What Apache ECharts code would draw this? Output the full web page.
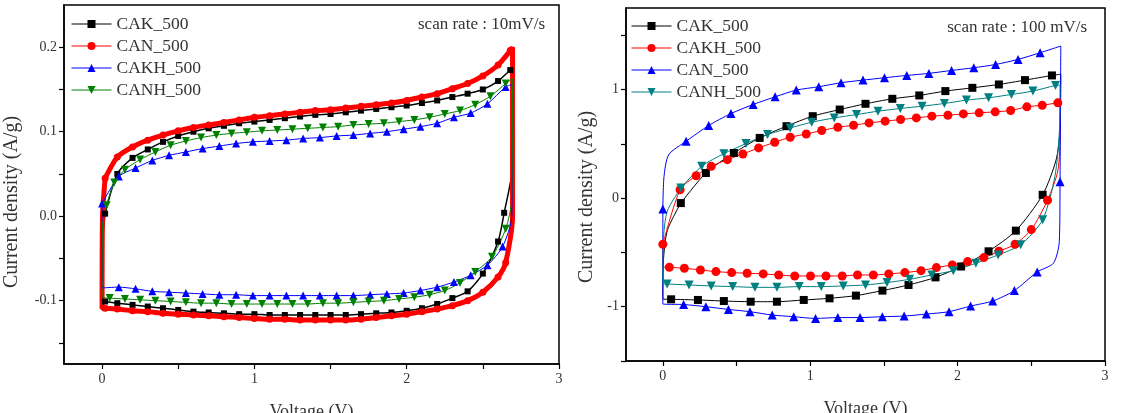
<!DOCTYPE html>
<html>
<head>
<meta charset="utf-8">
<script src="https://cdn.jsdelivr.net/npm/echarts@6/dist/echarts.min.js"></script>
<style>
  html, body { margin: 0; padding: 0; background: #fff; }
  #chart { width: 1121px; height: 413px; }
</style>
</head>
<body>
<div id="chart"></div>
<script>
// Each loop is [V, I] in parts: markers on the upper branch, bare turn points,
// markers on the lower branch, bare closing points.

// ---- left panel, 10 mV/s ----
const cak10Up = [[0.02,0.003],[0.1,0.050],[0.2,0.069],[0.3,0.079],[0.4,0.088],[0.5,0.095],[0.6,0.100],[0.7,0.104],[0.8,0.107],[0.9,0.110],[1.0,0.112],[1.1,0.114],[1.2,0.116],[1.3,0.118],[1.4,0.120],[1.5,0.121],[1.6,0.123],[1.7,0.125],[1.8,0.127],[1.9,0.129],[2.0,0.131],[2.1,0.134],[2.2,0.137],[2.3,0.141],[2.4,0.145],[2.5,0.150],[2.6,0.160],[2.68,0.173]];
const cak10Turn = [[2.695,0.175],[2.695,0.06]];
const cak10Down = [[2.64,0.004],[2.6,-0.03],[2.5,-0.068],[2.4,-0.089],[2.3,-0.097],[2.2,-0.104],[2.1,-0.109],[2.0,-0.112],[1.9,-0.114],[1.8,-0.115],[1.7,-0.116],[1.6,-0.117],[1.5,-0.117],[1.4,-0.117],[1.3,-0.117],[1.2,-0.117],[1.1,-0.117],[1.0,-0.116],[0.9,-0.116],[0.8,-0.115],[0.7,-0.114],[0.6,-0.113],[0.5,-0.111],[0.4,-0.109],[0.3,-0.107],[0.2,-0.105],[0.1,-0.103],[0.02,-0.101]];
const cak10Close = [[0.0,-0.100],[0.003,-0.03]];

const can10Up = [[0.02,0.045],[0.1,0.070],[0.2,0.082],[0.3,0.090],[0.4,0.096],[0.5,0.101],[0.6,0.105],[0.7,0.108],[0.8,0.111],[0.9,0.114],[1.0,0.117],[1.1,0.119],[1.2,0.121],[1.3,0.123],[1.4,0.125],[1.5,0.126],[1.6,0.128],[1.7,0.130],[1.8,0.132],[1.9,0.134],[2.0,0.137],[2.1,0.141],[2.2,0.145],[2.3,0.151],[2.4,0.157],[2.5,0.166],[2.6,0.179],[2.68,0.196]];
const can10Turn = [[2.695,0.20],[2.695,0.0]];
const can10Down = [[2.65,-0.055],[2.6,-0.072],[2.5,-0.090],[2.4,-0.100],[2.3,-0.106],[2.2,-0.110],[2.1,-0.113],[2.0,-0.116],[1.9,-0.118],[1.8,-0.120],[1.7,-0.122],[1.6,-0.123],[1.5,-0.123],[1.4,-0.123],[1.3,-0.123],[1.2,-0.122],[1.1,-0.122],[1.0,-0.121],[0.9,-0.120],[0.8,-0.119],[0.7,-0.118],[0.6,-0.117],[0.5,-0.116],[0.4,-0.115],[0.3,-0.113],[0.2,-0.112],[0.1,-0.110],[0.02,-0.109]];
const can10Close = [[0.0,-0.109],[0.003,0.0]];

const cakh10Up = [[0.0,0.015],[0.11,0.047],[0.22,0.057],[0.33,0.066],[0.44,0.072],[0.55,0.076],[0.66,0.080],[0.77,0.083],[0.88,0.086],[0.99,0.088],[1.1,0.089],[1.21,0.090],[1.32,0.092],[1.43,0.093],[1.54,0.095],[1.65,0.096],[1.76,0.098],[1.87,0.100],[1.98,0.103],[2.09,0.106],[2.2,0.110],[2.31,0.117],[2.42,0.122],[2.53,0.133],[2.65,0.153]];
const cakh10Turn = [[2.695,0.156],[2.69,0.0]];
const cakh10Down = [[2.63,-0.036],[2.53,-0.058],[2.42,-0.070],[2.31,-0.078],[2.2,-0.084],[2.09,-0.088],[1.98,-0.091],[1.87,-0.092],[1.76,-0.093],[1.65,-0.094],[1.54,-0.094],[1.43,-0.094],[1.32,-0.094],[1.21,-0.094],[1.1,-0.094],[0.99,-0.094],[0.88,-0.093],[0.77,-0.093],[0.66,-0.092],[0.55,-0.091],[0.44,-0.090],[0.33,-0.089],[0.22,-0.086],[0.11,-0.084]];
const cakh10Close = [[0.0,-0.085]];

const canh10Up = [[0.03,0.013],[0.08,0.040],[0.15,0.055],[0.25,0.067],[0.35,0.076],[0.45,0.084],[0.55,0.089],[0.65,0.093],[0.75,0.096],[0.85,0.098],[0.95,0.0995],[1.05,0.101],[1.15,0.102],[1.25,0.103],[1.35,0.104],[1.45,0.105],[1.55,0.106],[1.65,0.108],[1.75,0.109],[1.85,0.110],[1.95,0.112],[2.05,0.114],[2.15,0.117],[2.25,0.121],[2.35,0.125],[2.45,0.132],[2.55,0.142],[2.65,0.157]];
const canh10Turn = [[2.695,0.163],[2.69,0.02]];
const canh10Down = [[2.65,-0.015],[2.56,-0.048],[2.45,-0.066],[2.35,-0.079],[2.25,-0.088],[2.15,-0.093],[2.05,-0.096],[1.95,-0.098],[1.85,-0.100],[1.75,-0.101],[1.65,-0.102],[1.55,-0.103],[1.45,-0.103],[1.35,-0.104],[1.25,-0.104],[1.15,-0.104],[1.05,-0.104],[0.95,-0.104],[0.85,-0.104],[0.75,-0.103],[0.65,-0.103],[0.55,-0.102],[0.45,-0.101],[0.35,-0.100],[0.25,-0.099],[0.15,-0.098],[0.05,-0.097]];
const canh10Close = [[0.0,-0.096],[0.003,-0.01]];

// ---- right panel, 100 mV/s ----
const cak100Up = [[0.122,-0.046],[0.292,0.231],[0.482,0.415],[0.657,0.554],[0.839,0.662],[1.017,0.754],[1.2,0.815],[1.375,0.868],[1.557,0.914],[1.74,0.945],[1.917,0.985],[2.1,1.015],[2.28,1.046],[2.457,1.086],[2.64,1.129]];
const cak100Turn = [[2.70,1.14],[2.695,0.63],[2.668,0.35]];
const cak100Down = [[2.577,0.03],[2.395,-0.30],[2.21,-0.49],[2.024,-0.63],[1.85,-0.73],[1.667,-0.80],[1.49,-0.852],[1.31,-0.898],[1.131,-0.923],[0.956,-0.938],[0.774,-0.954],[0.596,-0.954],[0.414,-0.948],[0.238,-0.938],[0.056,-0.932]];
const cak100Close = [[0.0,-0.93],[0.003,-0.6],[0.03,-0.3]];

const cakh100Up = [[0.0,-0.425],[0.117,0.077],[0.226,0.206],[0.328,0.292],[0.438,0.354],[0.543,0.406],[0.65,0.462],[0.759,0.514],[0.864,0.56],[0.973,0.59],[1.078,0.622],[1.187,0.652],[1.294,0.671],[1.399,0.692],[1.508,0.708],[1.613,0.723],[1.72,0.738],[1.825,0.754],[1.934,0.763],[2.039,0.775],[2.146,0.785],[2.255,0.794],[2.36,0.806],[2.47,0.84],[2.574,0.855],[2.68,0.877]];
const cakh100Turn = [[2.695,0.88],[2.695,0.6],[2.68,0.25]];
const cakh100Down = [[2.61,-0.02],[2.5,-0.29],[2.39,-0.425],[2.28,-0.49],[2.178,-0.548],[2.068,-0.585],[1.964,-0.615],[1.856,-0.64],[1.752,-0.668],[1.642,-0.686],[1.533,-0.698],[1.428,-0.708],[1.321,-0.708],[1.217,-0.717],[1.107,-0.717],[1.002,-0.717],[0.895,-0.717],[0.786,-0.708],[0.681,-0.698],[0.572,-0.692],[0.467,-0.686],[0.36,-0.677],[0.255,-0.662],[0.146,-0.646],[0.044,-0.637]];
const cakh100Close = [[0.0,-0.63]];

const can100Start = [[0.0,-0.10]];
const can100Bend1 = [[0.008,0.2],[0.04,0.4]];
const can100Up = [[0.158,0.523],[0.311,0.668],[0.462,0.778],[0.613,0.862],[0.762,0.932],[0.905,0.994],[1.058,1.025],[1.209,1.062],[1.358,1.086],[1.504,1.108],[1.655,1.129],[1.805,1.148],[1.959,1.175],[2.11,1.2],[2.258,1.23],[2.41,1.277],[2.56,1.338]];
const can100Turn = [[2.70,1.40]];
const can100Mid = [[2.695,0.15]];
const can100Bend2 = [[2.69,-0.4],[2.65,-0.6]];
const can100Down = [[2.54,-0.68],[2.385,-0.852],[2.238,-0.948],[2.088,-0.994],[1.942,-1.046],[1.788,-1.068],[1.637,-1.086],[1.489,-1.092],[1.338,-1.1],[1.187,-1.1],[1.036,-1.108],[0.888,-1.092],[0.742,-1.077],[0.591,-1.046],[0.445,-1.025],[0.292,-1.0],[0.141,-0.98]];
const can100Close = [[0.0,-0.975]];

const canh100Up = [[0.122,0.092],[0.263,0.292],[0.414,0.409],[0.564,0.502],[0.71,0.585],[0.864,0.646],[1.01,0.698],[1.163,0.738],[1.314,0.769],[1.46,0.8],[1.611,0.825],[1.759,0.846],[1.91,0.871],[2.06,0.902],[2.21,0.923],[2.365,0.954],[2.511,0.985],[2.664,1.037]];
const canh100Turn = [[2.695,1.04],[2.69,0.6],[2.66,0.2]];
const canh100Down = [[2.577,-0.2],[2.428,-0.43],[2.275,-0.523],[2.124,-0.6],[1.971,-0.668],[1.825,-0.708],[1.674,-0.748],[1.521,-0.778],[1.375,-0.8],[1.224,-0.809],[1.075,-0.815],[0.925,-0.815],[0.774,-0.822],[0.625,-0.822],[0.474,-0.815],[0.328,-0.809],[0.178,-0.8],[0.029,-0.791]];
const canh100Close = [[0.0,-0.79],[0.003,-0.4],[0.03,-0.12]];

// axes
const xTicks = [0, 0.5, 1, 1.5, 2, 2.5, 3];
const xLabels = [0, 1, 2, 3];
const leftYTicks = [-0.15, -0.1, -0.05, 0, 0.05, 0.1, 0.15, 0.2];
const leftYLabels = [-0.1, 0, 0.1, 0.2];
const rightYTicks = [-1.5, -1, -0.5, 0, 0.5, 1, 1.5];
const rightYLabels = [-1, 0, 1];

const FONT = 'Liberation Serif';

// even parts get markers, odd parts are bare points; loop is closed at the end
function loop(parts) {
  const out = [];
  parts.forEach(function (pts, i) {
    pts.forEach(function (p) {
      out.push(i % 2 === 0 ? p : { value: p, symbol: 'none' });
    });
  });
  out.push({ value: parts[0][0], symbol: 'none' });
  return out;
}

function curve(name, panel, color, symbol, size, width, parts) {
  return {
    name: name,
    type: 'line',
    xAxisIndex: panel,
    yAxisIndex: panel,
    data: loop(parts),
    smooth: 0.25,
    symbol: symbol,
    symbolSize: size,
    lineStyle: { color: color, width: width },
    itemStyle: { color: color },
    emphasis: { disabled: true }
  };
}

const downTri = 'path://M0,0 L10,0 L5,9 Z';

const chart = echarts.init(document.getElementById('chart'));

function xAxisOf(i) {
  return {
    type: 'value', gridIndex: i, min: -0.25, max: 3,
    axisLine: { show: true, onZero: false, lineStyle: { color: '#000', width: 1.5 } },
    axisTick: { show: true, inside: false, length: 5, customValues: xTicks, lineStyle: { color: '#000', width: 1.2 } },
    axisLabel: { customValues: xLabels, fontFamily: FONT, fontSize: 14, color: '#333', margin: 8 },
    splitLine: { show: false },
    name: 'Voltage (V)', nameLocation: 'middle', nameGap: 39,
    nameTextStyle: { fontFamily: FONT, fontSize: 18, color: '#333' }
  };
}

function yAxisOf(i, min, max, ticks, labels, fmt) {
  return {
    type: 'value', gridIndex: i, min: min, max: max,
    axisLine: { show: true, onZero: false, lineStyle: { color: '#000', width: 1.5 } },
    axisTick: { show: true, inside: false, length: 5, customValues: ticks, lineStyle: { color: '#000', width: 1.2 } },
    axisLabel: { customValues: labels, fontFamily: FONT, fontSize: 14, color: '#333', margin: 7, formatter: fmt },
    splitLine: { show: false }
  };
}

function yTitle(x, y) {
  return {
    type: 'text', x: x, y: y, rotation: Math.PI / 2,
    style: { text: 'Current density (A/g)', font: '20px "Liberation Serif"', fill: '#333', align: 'center', verticalAlign: 'middle' }
  };
}

function legendOf(left, top, names) {
  return {
    data: names,
    orient: 'vertical',
    left: left, top: top,
    itemWidth: 40, itemHeight: 10, itemGap: 4,
    selectedMode: false,
    lineStyle: { width: 1 },
    formatter: function (n) { return n.split('|')[1]; },
    textStyle: { fontFamily: FONT, fontSize: 17.5, color: '#333' }
  };
}

chart.setOption({
  animation: false,
  backgroundColor: '#fff',
  grid: [
    { left: 64, top: 5, width: 495, height: 359, show: true, borderColor: '#000', borderWidth: 1.5, outerBoundsMode: 'none' },
    { left: 626, top: 8, width: 479, height: 353, show: true, borderColor: '#000', borderWidth: 1.5, outerBoundsMode: 'none' }
  ],
  xAxis: [xAxisOf(0), xAxisOf(1)],
  yAxis: [
    yAxisOf(0, -0.175, 0.25, leftYTicks, leftYLabels, function (v) { return v.toFixed(1); }),
    yAxisOf(1, -1.5, 1.75, rightYTicks, rightYLabels, function (v) { return String(Math.round(v)); })
  ],
  legend: [
    legendOf(66, 10, ['L|CAK_500', 'L|CAN_500', 'L|CAKH_500', 'L|CANH_500']),
    legendOf(626, 12, ['R|CAK_500', 'R|CAKH_500', 'R|CAN_500', 'R|CANH_500'])
  ],
  graphic: [
    yTitle(12, 202),
    yTitle(587, 197),
    { type: 'text', right: 1121 - 545, top: 16, style: { text: 'scan rate : 10mV/s', font: '17px "Liberation Serif"', fill: '#333' } },
    { type: 'text', right: 1121 - 1087, top: 19, style: { text: 'scan rate : 100 mV/s', font: '17px "Liberation Serif"', fill: '#333' } }
  ],
  series: [
    curve('L|CAK_500', 0, '#000000', 'rect', 6, 1.5, [cak10Up, cak10Turn, cak10Down, cak10Close]),
    curve('L|CAN_500', 0, '#ff0000', 'circle', 7, 5, [can10Up, can10Turn, can10Down, can10Close]),
    curve('L|CAKH_500', 0, '#0000ff', 'triangle', 8, 1, [cakh10Up, cakh10Turn, cakh10Down, cakh10Close]),
    curve('L|CANH_500', 0, '#008000', downTri, 8, 1, [canh10Up, canh10Turn, canh10Down, canh10Close]),
    curve('R|CAK_500', 1, '#000000', 'rect', 8, 1, [cak100Up, cak100Turn, cak100Down, cak100Close]),
    curve('R|CAKH_500', 1, '#ff0000', 'circle', 9, 1, [cakh100Up, cakh100Turn, cakh100Down, cakh100Close]),
    curve('R|CAN_500', 1, '#0000ff', 'triangle', 9, 1, [can100Start, can100Bend1, can100Up, can100Turn, can100Mid, can100Bend2, can100Down, can100Close]),
    curve('R|CANH_500', 1, '#008080', downTri, 9, 1, [canh100Up, canh100Turn, canh100Down, canh100Close])
  ]
});
</script>
</body>
</html>
